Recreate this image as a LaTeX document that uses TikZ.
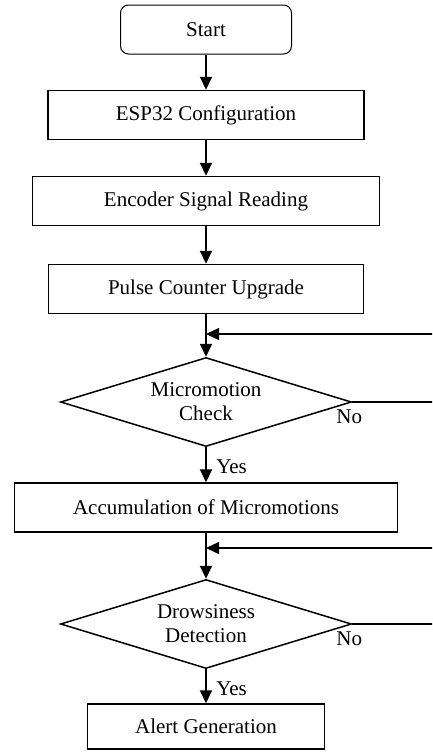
\documentclass[tikz,border=0pt]{standalone}
\usepackage{fontspec}
\setmainfont{Liberation Serif}
\usetikzlibrary{shapes.geometric,arrows.meta,positioning}

\begin{document}
\begin{tikzpicture}[x=1pt, y=-1pt,
    font=\fontsize{21}{24}\selectfont,
    startstop/.style ={rectangle, rounded corners=8pt, draw, line width=1pt, minimum width=171pt, minimum height=49pt},
    process/.style ={rectangle, draw, line width=1.5pt, inner sep=0pt, minimum height=49pt},
    decision/.style ={diamond, draw, line width=1.5pt, aspect=3.2, inner sep=0pt, align=center, minimum width=291pt, minimum height=89pt},
    arrow/.style ={line width=2pt, -{Triangle[length=13pt,width=12pt]}},
    loop/.style ={line width=1.3pt, -{Triangle[length=13pt,width=12pt]}}]
   \useasboundingbox (0,0) rectangle (432,753);
   \clip (0,0) rectangle (432,753);
   \node[startstop] (start) at (206,29.5) {Start};
   \node[process, minimum width=316pt] (esp) at (206,115) {ESP32 Configuration};
   \node[process, minimum width=347pt] (encoder) at (206,201) {Encoder Signal Reading};
   \node[process, minimum width=315pt] (pulse) at (206,289) {Pulse Counter Upgrade};
   \node[decision] (check) at (206,402) {Micromotion\\Check};
   \node[process, minimum width=383pt] (accum) at (206,507.5) {Accumulation of Micromotions};
   \node[decision] (drowsy) at (206,624) {Drowsiness\\Detection};
   \node[process, minimum width=237pt, minimum height=45pt] (alert) at (206,726.5) {Alert Generation};
   % loop back points
   \coordinate (join1) at (206,334);
   \coordinate (join2) at (206,548);
   \coordinate (edge1) at (445,334);
   \coordinate (edge2) at (445,548);
   \draw[arrow] (start) to (esp);
   \draw[arrow] (esp) to (encoder);
   \draw[arrow] (encoder) to (pulse);
   \draw[arrow] (pulse) to (check);
   \draw[arrow] (check) to node[right=6pt, yshift=-2pt] (yes1) {Yes} (accum);
   \draw[arrow] (accum) to (drowsy);
   \draw[arrow] (drowsy) to node[right=6pt, yshift=-2pt] (yes2) {Yes} (alert);
   \draw[loop] (check.east) -| (edge1) -- (join1);
   \draw[loop] (drowsy.east) -| (edge2) -- (join2);
   \node[below=4pt of check.east, xshift=-3pt] (no1) {No};
   \node[below=4pt of drowsy.east, xshift=-3pt] (no2) {No};
 \end{tikzpicture}
\end{document}
